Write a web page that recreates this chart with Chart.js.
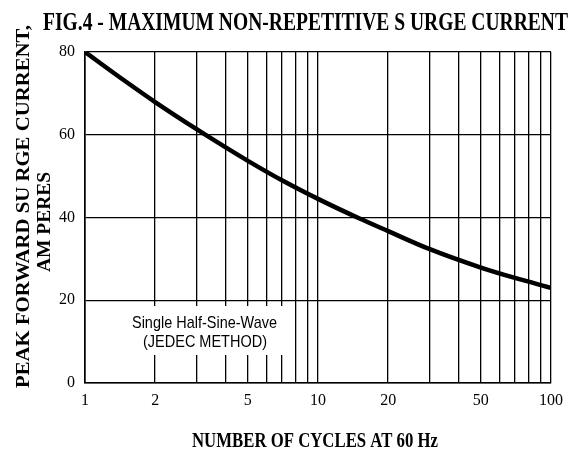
<!DOCTYPE html>
<html>
<head>
<meta charset="utf-8">
<script src="https://cdn.jsdelivr.net/npm/chart.js@4.4.0/dist/chart.umd.min.js"></script>
<style>
  body { margin: 0; background: #fff; }
  #wrap { width: 581px; height: 452px; }
</style>
</head>
<body>
<div id="wrap"><canvas id="surge" width="581" height="452"></canvas></div>
<script>
// number of cycles (log axis) and peak surge current
const cycles = [1, 1.5, 2, 3, 4, 5, 7, 10, 15, 20, 30, 50, 70, 100];
const current = [80, 72.8, 67.9, 61.4, 57, 53.7, 49, 44.5, 39.8, 36.7, 32.4, 27.9, 25.4, 23];

// grid + labels
const xGrid = [1, 2, 3, 4, 5, 6, 7, 8, 9, 10, 20, 30, 40, 50, 60, 70, 80, 90, 100];
const xLabels = [1, 2, 5, 10, 20, 50, 100];
const yTicks = [0, 20, 40, 60, 80];

const titleText = 'FIG.4 - MAXIMUM NON-REPETITIVE S URGE CURRENT';
const yTitle1 = 'PEAK FORWARD SU RGE CURRENT,';
const yTitle2 = 'AM PERES';
const xTitle = 'NUMBER OF CYCLES AT 60 Hz';
const note1 = 'Single Half-Sine-Wave';
const note2 = '(JEDEC METHOD)';

// draws text squeezed to a given width (the original is condensed)
function fitText(ctx, str, x, y, w, font, rotated) {
  ctx.save();
  ctx.font = font;
  ctx.fillStyle = '#000';
  ctx.textAlign = 'center';
  ctx.textBaseline = 'alphabetic';
  ctx.translate(x, y);
  if (rotated) ctx.rotate(-Math.PI / 2);
  var m = ctx.measureText(str).width;
  ctx.scale(w / m, 1);
  ctx.fillText(str, 0, 0);
  ctx.restore();
}

const textPlugin = {
  id: 'texts',
  beforeDatasetsDraw(chart) {
    // white patch behind the note, cuts the grid lines
    var ctx = chart.ctx;
    ctx.save();
    ctx.fillStyle = '#fff';
    ctx.fillRect(122, 306, 162, 49);
    ctx.restore();
  },
  afterDraw(chart) {
    var ctx = chart.ctx;
    fitText(ctx, titleText, 305.5, 30, 525, 'bold 26px "Liberation Serif"');
    fitText(ctx, xTitle, 315, 447, 246, 'bold 20px "Liberation Serif"');
    fitText(ctx, yTitle1, 29, 206.5, 363, 'bold 18px "Liberation Serif"', true);
    fitText(ctx, yTitle2, 50, 222, 100, 'bold 18px "Liberation Serif"', true);
    fitText(ctx, note1, 204.5, 328, 145, '17px "Liberation Sans"');
    fitText(ctx, note2, 205, 347, 124, '17px "Liberation Sans"');
  }
};

new Chart(document.getElementById('surge'), {
  type: 'line',
  data: {
    datasets: [{
      data: cycles.map((c, i) => ({ x: c, y: current[i] })),
      borderColor: '#000',
      borderWidth: 4.5,
      pointRadius: 0,
      cubicInterpolationMode: 'monotone',
      fill: false
    }]
  },
  options: {
    responsive: false,
    animation: false,
    devicePixelRatio: 1,
    layout: { padding: { top: 52, right: 30, left: 0, bottom: 0 } },
    plugins: { legend: { display: false }, tooltip: { enabled: false } },
    scales: {
      x: {
        type: 'logarithmic',
        min: 1,
        max: 100,
        afterBuildTicks: (scale) => { scale.ticks = xGrid.map(v => ({ value: v })); },
        afterFit: (scale) => { scale.height = 69; },
        grid: { color: '#000', lineWidth: 1.3, drawTicks: false },
        border: { color: '#000', width: 1.6 },
        ticks: {
          autoSkip: false,
          maxRotation: 0,
          padding: 8,
          color: '#000',
          font: { family: 'Liberation Serif', size: 16 },
          callback: (v) => xLabels.includes(v) ? String(v) : ''
        }
      },
      y: {
        min: 0,
        max: 80,
        afterBuildTicks: (scale) => { scale.ticks = yTicks.map(v => ({ value: v })); },
        afterFit: (scale) => { scale.width = 85; },
        grid: { color: '#000', lineWidth: 1.3, drawTicks: false },
        border: { color: '#000', width: 1.6 },
        ticks: {
          padding: 10,
          color: '#000',
          font: { family: 'Liberation Serif', size: 16 }
        }
      }
    }
  },
  plugins: [textPlugin]
});
</script>
</body>
</html>
